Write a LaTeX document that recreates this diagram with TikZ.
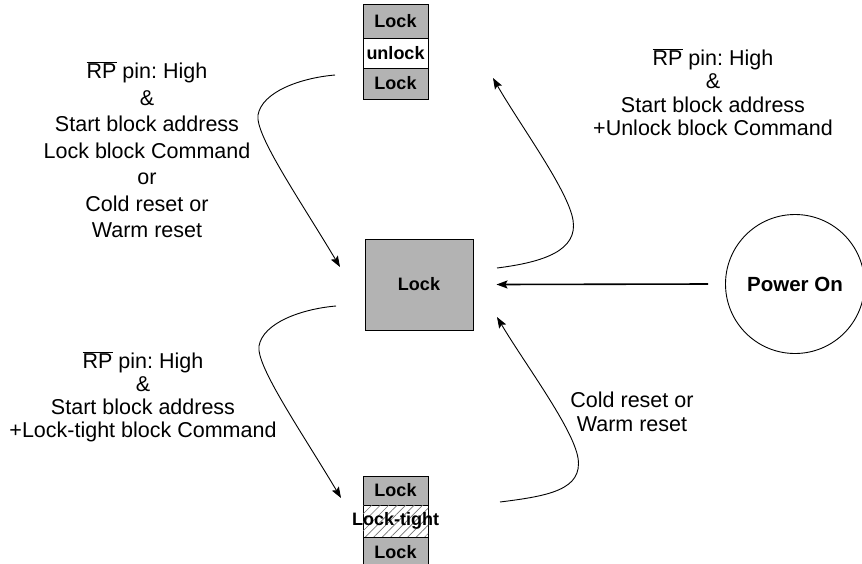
\documentclass[tikz,border=0pt]{standalone}
\usepackage{fontspec}
\setmainfont{Liberation Sans}
\usetikzlibrary{arrows.meta,patterns.meta,calc}
\definecolor{blockgray}{RGB}{179,179,179}
\frenchspacing
\begin{document}
\begin{tikzpicture}[x=1pt,y=-1pt,
  cell/.style={draw=black,line width=0.9pt,minimum width=65pt,inner sep=0pt,font=\fontsize{18}{21}\selectfont\bfseries},
  graycell/.style={cell,fill=blockgray},
  lbl/.style={align=center,inner sep=0pt},
  conn/.style={line width=0.9pt,-{Stealth[length=11pt,width=8pt,inset=2pt]}},
]
\useasboundingbox (0,0) rectangle (862,563);
% top block
\node[graycell,minimum height=34pt] (t1) at (395.5,21) {Lock};
\node[cell,fill=white,minimum height=30pt] (t2) at (395.5,53) {unlock};
\node[graycell,minimum height=31pt] (t3) at (395.5,83.5) {Lock};
% centre block
\node[graycell,minimum width=108pt,minimum height=91pt] (lk) at (419,284.5) {Lock};
% bottom block
\node[graycell,minimum height=29pt] (b1) at (395.5,490.5) {Lock};
\node[cell,fill=white,minimum height=32pt,
  postaction={pattern={Lines[angle=45,distance=6pt,line width=0.6pt]},pattern color=black!55}] (b2) at (395.5,521) {};
\node[font=\fontsize{18}{21}\selectfont\bfseries,inner sep=0pt] (b2t) at (b2) {Lock-tight};
\node[graycell,minimum height=31pt] (b3) at (395.5,552.5) {Lock};
% power on
\node[draw=black,line width=0.9pt,circle,minimum size=139pt,inner sep=0pt,font=\fontsize{20.5}{24}\selectfont\bfseries] (pw) at (795,284) {Power On};
% labels
\node[lbl,font=\fontsize{21.5}{26.5}\selectfont] (l1) at (147,150) {$\overline{\mbox{RP}}$ pin: High\\ \&\\ Start block address\\ Lock block Command\\ or\\ Cold reset or\\ Warm reset};
\node[lbl,font=\fontsize{21.5}{23.5}\selectfont] (l2) at (713,92) {$\overline{\mbox{RP}}$ pin: High\\ \&\\ Start block address\\ +Unlock block Command};
\node[lbl,font=\fontsize{21.5}{23}\selectfont] (l3) at (143,397) {$\overline{\mbox{RP}}$ pin: High\\ \&\\ Start block address\\ +Lock-tight block Command};
\node[lbl,font=\fontsize{21.5}{24}\selectfont] (l4) at (632,412) {Cold reset or\\ Warm reset};
% connector end points
\coordinate (a1s) at (335,75);   \coordinate (a1e) at (340,267);
\coordinate (a2s) at (497,268);  \coordinate (a2e) at (493,78);
\coordinate (a3s) at (336,306);  \coordinate (a3e) at (341,498);
\coordinate (a4s) at (500,502);  \coordinate (a4e) at (497,317);
\coordinate (a5s) at ($(pw.west)+(-17,0)$); \coordinate (a5e) at ($(lk.east)+(23,0)$);
% connectors
\draw[conn] (a1s) .. controls (300,78) and (262,92) .. (258,115) .. controls (255,135) and (300,200) .. (a1e);
\draw[conn] (a2s) .. controls (545,262) and (578,250) .. (573,220) .. controls (568,190) and (520,125) .. (a2e);
\draw[conn] (a3s) .. controls (301,309) and (263,323) .. (259,346) .. controls (256,366) and (301,431) .. (a3e);
\draw[conn] (a4s) .. controls (548,496) and (583,490) .. (578,458) .. controls (573,428) and (525,364) .. (a4e);
\draw[conn,line width=1.6pt] (a5s) -- (a5e);
\end{tikzpicture}
\end{document}
